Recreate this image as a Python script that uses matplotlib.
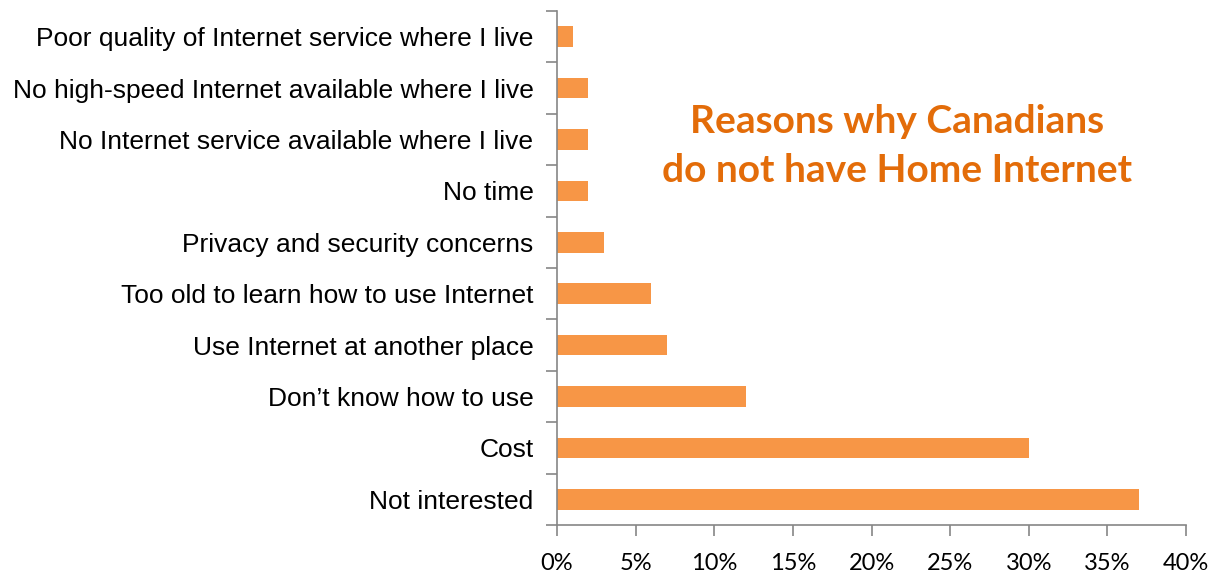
import matplotlib
matplotlib.use("Agg")
import matplotlib.pyplot as plt
from matplotlib.ticker import FuncFormatter

categories = [
    "Not interested",
    "Cost",
    "Don\u2019t know how to use",
    "Use Internet at another place",
    "Too old to learn how to use Internet",
    "Privacy and security concerns",
    "No time",
    "No Internet service available where I live",
    "No high-speed Internet available where I live",
    "Poor quality of Internet service where I live",
]
values = [37, 30, 12, 7, 6, 3, 2, 2, 2, 1]
xticks = [0, 5, 10, 15, 20, 25, 30, 35, 40]

fig = plt.figure(figsize=(12.18, 5.73), dpi=100)
ax = fig.add_axes([557/1218, 48/573, (1186-557)/1218, (525-11)/573])

pos = list(range(len(categories)))
ax.barh(pos, values, height=0.4, color="#F79646", zorder=2)
ax.set_xlim(0, 40)
ax.set_ylim(-0.5, len(categories) - 0.5)

ax.set_yticks(pos)
ax.set_yticklabels(categories, fontsize=19, family="Liberation Sans")
ax.set_yticks([p - 0.5 for p in pos] + [len(categories) - 0.5], minor=True)
ax.tick_params(axis="y", which="major", length=0, pad=17)
ax.tick_params(axis="y", which="minor", length=8, width=1.2, color="#868686", direction="out")

ax.set_xticks(xticks)
ax.xaxis.set_major_formatter(FuncFormatter(lambda v, p: f"{int(v)}%"))
ax.tick_params(axis="x", length=8, width=1.2, color="#868686", direction="out", pad=12, labelsize=17)
for lab in ax.get_xticklabels():
    lab.set_family("Lato")

for s in ["top", "right"]:
    ax.spines[s].set_visible(False)
for s in ["left", "bottom"]:
    ax.spines[s].set_color("#868686")
    ax.spines[s].set_linewidth(1.2)

fig.text(897/1218, 1 - 146/573, "Reasons why Canadians\ndo not have Home Internet",
         ha="center", va="center", fontsize=28, fontweight="bold", family="Lato",
         color="#E36C09", linespacing=1.5)

fig.savefig("out.png", dpi=100)
